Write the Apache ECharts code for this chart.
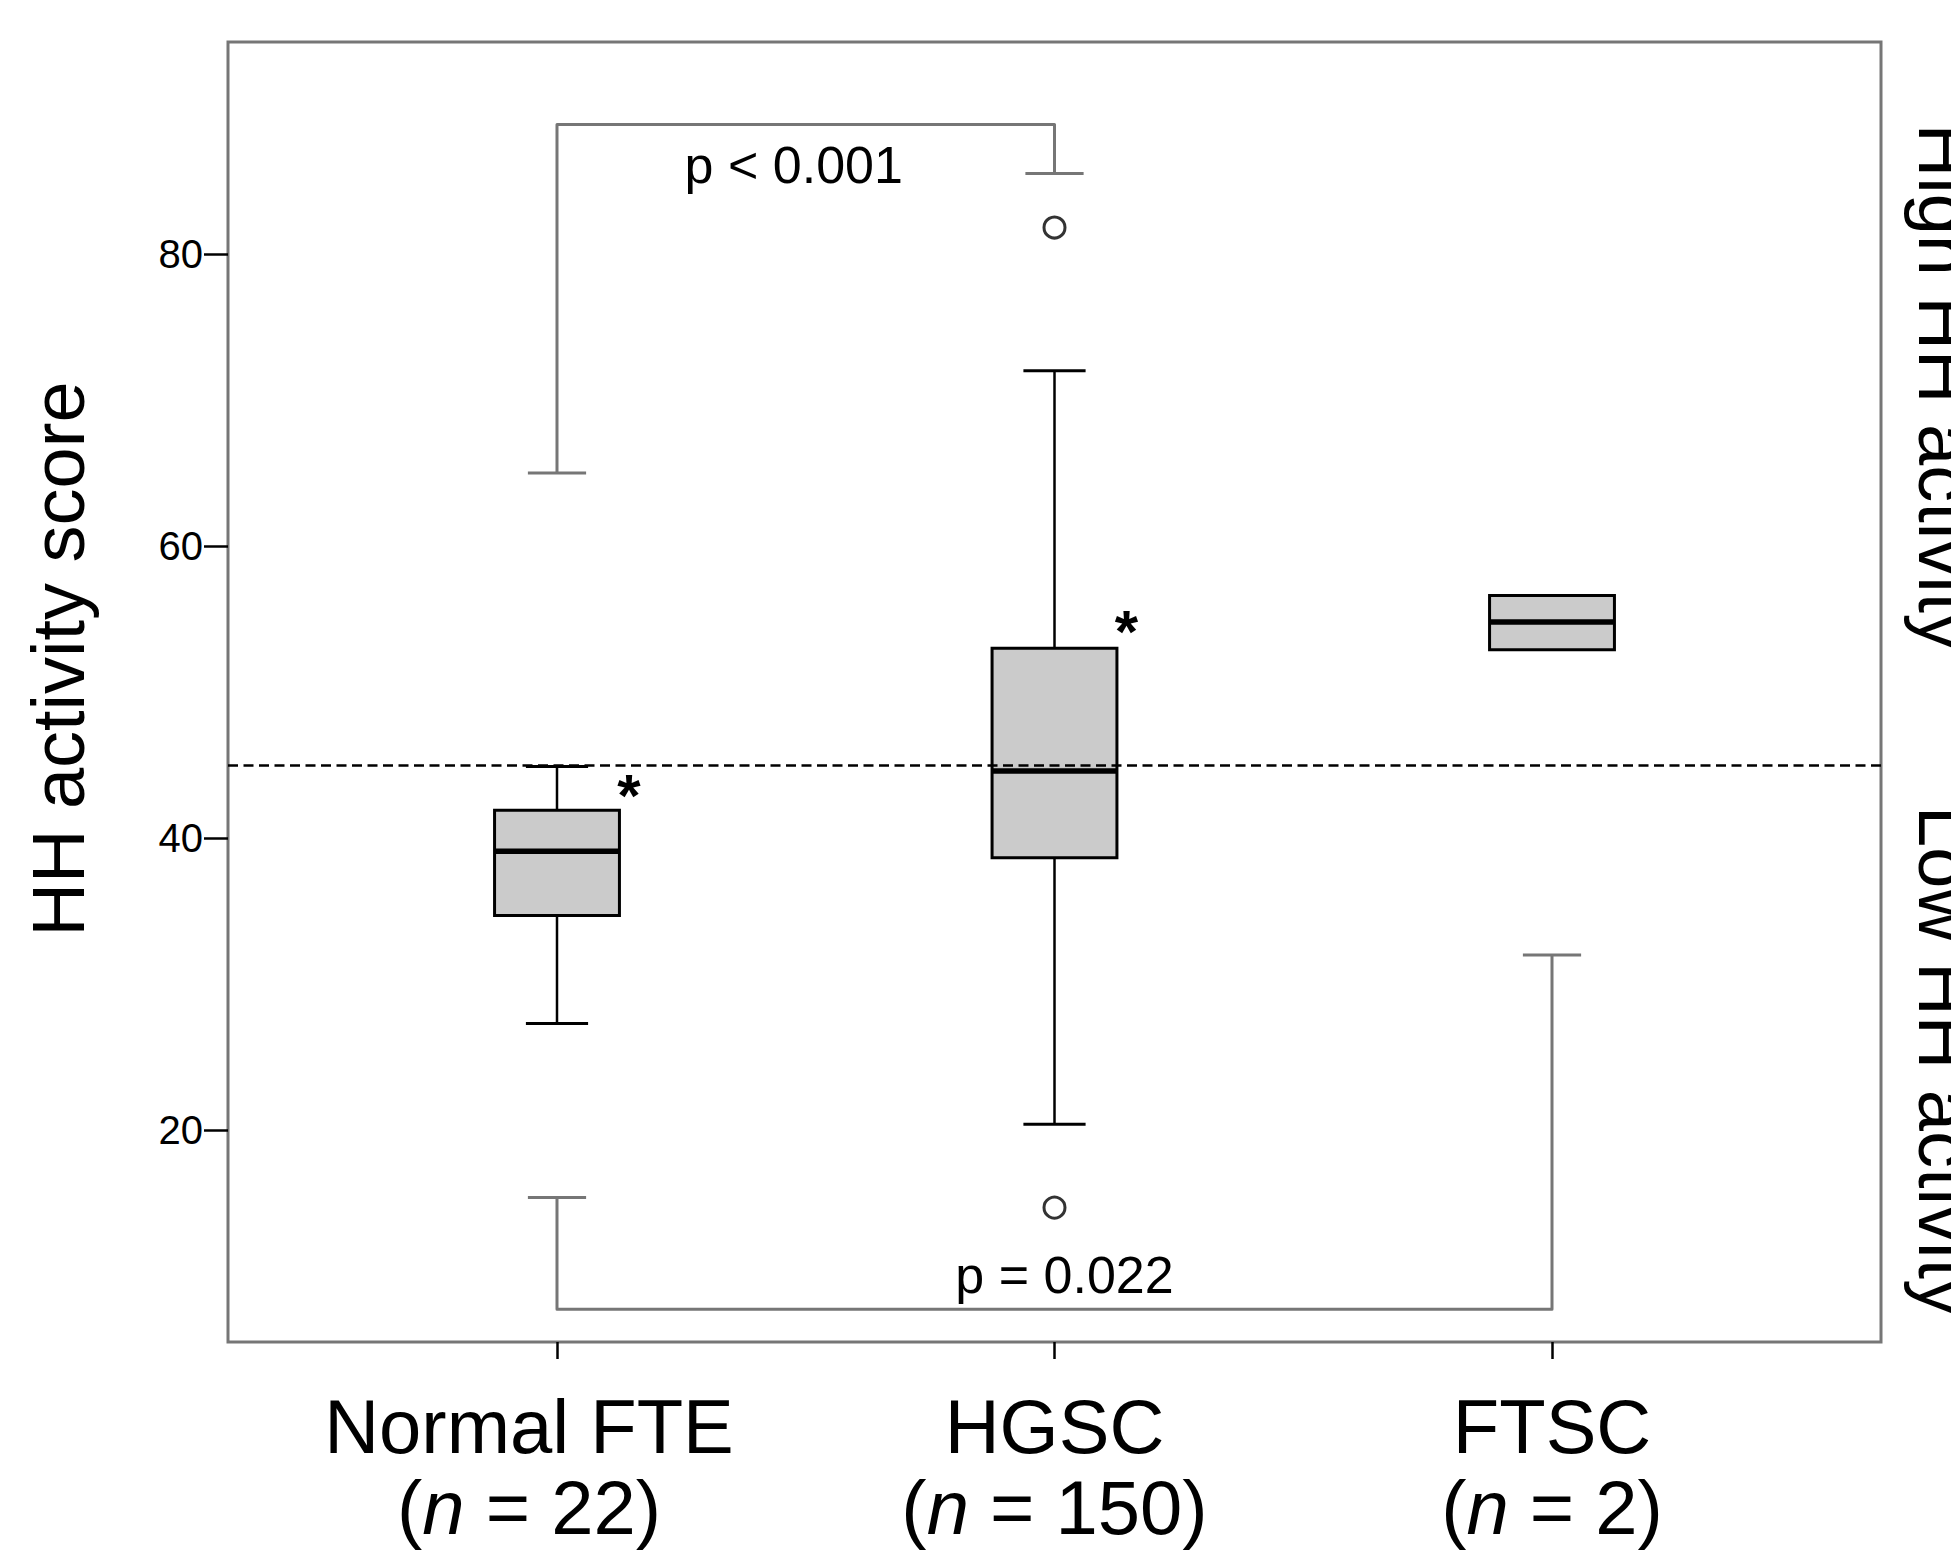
<!DOCTYPE html>
<html>
<head>
<meta charset="utf-8">
<script src="https://cdn.jsdelivr.net/npm/echarts@6/dist/echarts.min.js"></script>
<style>
html,body{margin:0;padding:0;background:#fff;}
#chart{width:1951px;height:1553px;}
</style>
</head>
<body>
<div id="chart"></div>
<script>
// ---- data ----
const categories = ['Normal FTE', 'HGSC', 'FTSC'];
const sampleSizes = [22, 150, 2];
const whiskerLow = [27.3, 20.4, null];
const q1Values = [34.7, 38.65, 52.9];
const medianValues = [39.1, 44.6, 54.8];
const q3Values = [41.9, 53.0, 56.6];
const whiskerHigh = [44.9, 72.0, null];
const outliers = [[1, 81.8], [1, 14.7]];      // [category index, value]
const extremes = [[0, 43.9], [1, 55.1]];      // [category index, value]
const threshold = 45;
const yTicks = [20, 40, 60, 80];
const xTicks = [0, 1, 2];
const bracketFrom = [[0, 65.0], [0, 15.4]];   // [category index, value]
const bracketTo = [[1, 85.5], [2, 32.0]];
const bracketLevel = [88.85, 7.75];
const bracketLabels = ['p < 0.001', 'p = 0.022'];
const yAxisTitle = 'HH activity score';
const sideLabels = ['High HH activity', 'Low HH activity'];

// ---- build ----
const FONT = '"Liberation Sans", Arial, Helvetica, sans-serif';
const GRAY = '#767676';

const boxData = categories.map((c, i) => [i, whiskerLow[i], q1Values[i], medianValues[i], q3Values[i], whiskerHigh[i]]);
const bracketData = bracketLabels.map((l, k) => [bracketFrom[k][0], bracketFrom[k][1], bracketTo[k][0], bracketTo[k][1], bracketLevel[k]]);

const chart = echarts.init(document.getElementById('chart'), null, {renderer: 'svg'});

function num(v) { return (v === null || v === undefined || isNaN(v)) ? null : v; }

chart.setOption({
  animation: false,
  backgroundColor: '#ffffff',
  grid: {left: 228, right: 70, top: 42, bottom: 211, show: true, borderColor: GRAY, borderWidth: 3, backgroundColor: 'transparent'},
  xAxis: {
    type: 'value', min: -0.6613, max: 2.6613,
    axisLine: {show: false, onZero: false},
    splitLine: {show: false},
    axisTick: {show: true, customValues: xTicks, length: 17, lineStyle: {color: '#000', width: 2.5}},
    axisLabel: {
      customValues: xTicks, margin: 44, color: '#000', fontFamily: FONT,
      formatter: function (v) {
        const i = Math.round(v);
        const sp = i === 0 ? '{sp|}' : '';
        return '{t|' + categories[i] + '}' + sp + '\n{t|(}{i|n}{t| = ' + sampleSizes[i] + ')}' + sp;
      },
      rich: {
        t: {fontSize: 76, fontFamily: FONT, color: '#000', lineHeight: 81},
        i: {fontSize: 76, fontFamily: FONT, color: '#000', lineHeight: 81, fontStyle: 'italic'},
        sp: {width: 56, lineHeight: 81}
      }
    }
  },
  yAxis: {
    type: 'value', min: 5.5, max: 94.5,
    axisLine: {show: false, onZero: false},
    splitLine: {show: false},
    axisTick: {show: true, customValues: yTicks, length: 24, lineStyle: {color: '#000', width: 2.5}},
    axisLabel: {customValues: yTicks, margin: 25, fontSize: 40, color: '#000', fontFamily: FONT}
  },
  graphic: [
    {type: 'text', x: 58, y: 659, rotation: Math.PI / 2,
     style: {text: yAxisTitle, fontSize: 74, fontFamily: FONT, fill: '#000', align: 'center', verticalAlign: 'middle'}},
    {type: 'text', x: 1944, y: 387, rotation: -Math.PI / 2,
     style: {text: sideLabels[0], fontSize: 74, fontFamily: FONT, fill: '#000', align: 'center', verticalAlign: 'middle'}},
    {type: 'text', x: 1944, y: 1061, rotation: -Math.PI / 2,
     style: {text: sideLabels[1], fontSize: 74, fontFamily: FONT, fill: '#000', align: 'center', verticalAlign: 'middle'}}
  ],
  series: [
    {
      type: 'custom',
      name: 'box',
      data: boxData,
      encode: {x: 0, y: [1, 2, 3, 4, 5]},
      markLine: {
        silent: true, symbol: 'none', label: {show: false},
        lineStyle: {type: [10, 5.5], color: '#000', width: 2.5},
        data: [{yAxis: threshold}]
      },
      renderItem: function (params, api) {
        const i = api.value(0);
        const lo = num(api.value(1)), a = api.value(2), m = api.value(3), b = api.value(4), hi = num(api.value(5));
        const halfBox = api.size([0.251, 0])[0] / 2;
        const halfCap = api.size([0.125, 0])[0] / 2;
        const pa = api.coord([i, a]), pb = api.coord([i, b]), pm = api.coord([i, m]);
        const cx = pa[0];
        const ls = {stroke: '#000', lineWidth: 2.5};
        const ch = [];
        if (hi !== null) {
          const ph = api.coord([i, hi]);
          ch.push({type: 'line', shape: {x1: cx, y1: pb[1], x2: cx, y2: ph[1]}, style: ls});
          ch.push({type: 'line', shape: {x1: cx - halfCap, y1: ph[1], x2: cx + halfCap, y2: ph[1]}, style: {stroke: '#000', lineWidth: 3}});
        }
        if (lo !== null) {
          const pl = api.coord([i, lo]);
          ch.push({type: 'line', shape: {x1: cx, y1: pa[1], x2: cx, y2: pl[1]}, style: ls});
          ch.push({type: 'line', shape: {x1: cx - halfCap, y1: pl[1], x2: cx + halfCap, y2: pl[1]}, style: {stroke: '#000', lineWidth: 3}});
        }
        ch.push({type: 'rect', shape: {x: cx - halfBox, y: pb[1], width: 2 * halfBox, height: pa[1] - pb[1]},
                 style: {fill: '#cbcbcb', stroke: '#000', lineWidth: 3}});
        ch.push({type: 'line', shape: {x1: cx - halfBox, y1: pm[1], x2: cx + halfBox, y2: pm[1]}, style: {stroke: '#000', lineWidth: 5.5}});
        return {type: 'group', children: ch};
      }
    },
    {
      type: 'scatter',
      name: 'outliers',
      data: outliers,
      symbol: 'circle',
      symbolSize: 21,
      itemStyle: {color: '#fff', borderColor: '#000', borderWidth: 3},
      z: 5
    },
    {
      type: 'custom',
      name: 'extremes',
      data: extremes,
      renderItem: function (params, api) {
        const p = api.coord([api.value(0), api.value(1)]);
        return {type: 'text', x: p[0] + 72, y: p[1] + 14,
                style: {text: '*', fontSize: 60, fontWeight: 'bold', fontFamily: FONT, fill: '#000', align: 'center', verticalAlign: 'middle'}};
      },
      z: 5
    },
    {
      type: 'custom',
      name: 'brackets',
      data: bracketData,
      renderItem: function (params, api) {
        const k = params.dataIndex;
        const p1 = api.coord([api.value(0), api.value(1)]);
        const pL = api.coord([api.value(0), api.value(4)]);
        const pR = api.coord([api.value(2), api.value(4)]);
        const p2 = api.coord([api.value(2), api.value(3)]);
        const halfCap = api.size([0.117, 0])[0] / 2;
        const st = {stroke: GRAY, lineWidth: 3, fill: null, lineJoin: 'round'};
        const up = p1[1] > pL[1];  // bar above the ends
        const labelDx = k === 0 ? -12 : 10;
        const labelY = up ? pL[1] + 40 : pL[1] - 34;
        return {type: 'group', children: [
          {type: 'polyline', shape: {points: [p1, pL, pR, p2]}, style: st},
          {type: 'line', shape: {x1: p1[0] - halfCap, y1: p1[1], x2: p1[0] + halfCap, y2: p1[1]}, style: st},
          {type: 'line', shape: {x1: p2[0] - halfCap, y1: p2[1], x2: p2[0] + halfCap, y2: p2[1]}, style: st},
          {type: 'text', x: (pL[0] + pR[0]) / 2 + labelDx, y: labelY,
           style: {text: bracketLabels[k], fontSize: 52, fontFamily: FONT, fill: '#000', align: 'center', verticalAlign: 'middle'}}
        ]};
      },
      z: 4
    }
  ]
});
</script>
</body>
</html>
